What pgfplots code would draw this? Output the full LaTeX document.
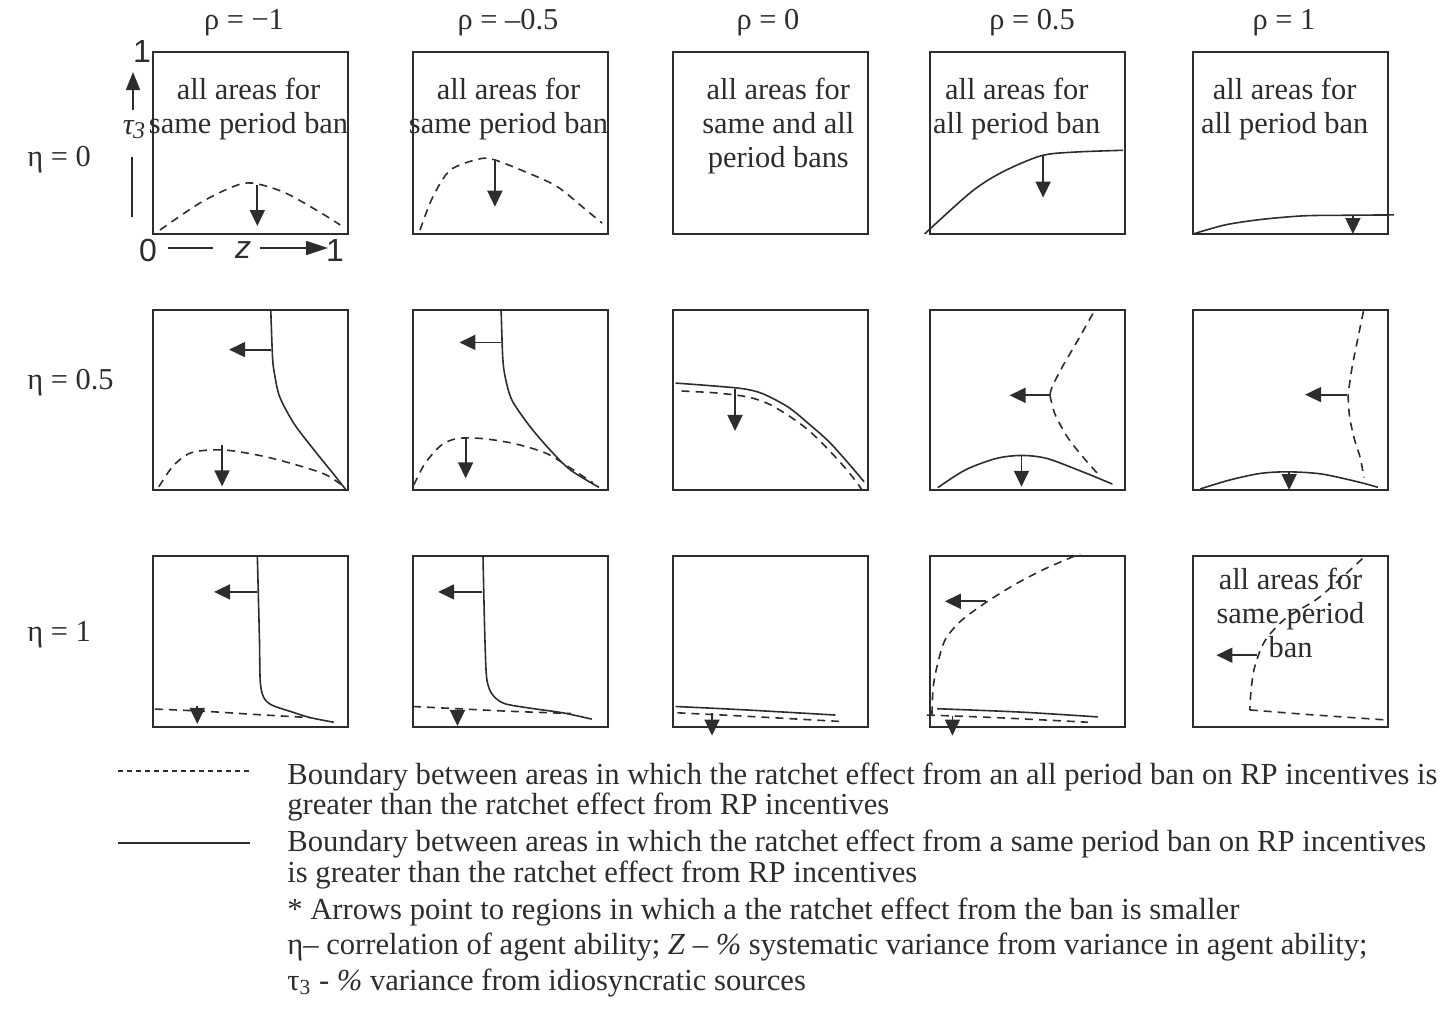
\documentclass[border=0pt]{standalone}
\usepackage{fontspec}
\setmainfont{Liberation Serif}
\newfontfamily\sansnum{Liberation Sans}
\usepackage{pgfplots}
\pgfplotsset{compat=1.18}
\usetikzlibrary{arrows.meta}
\definecolor{ink}{RGB}{45,45,48}

\newcommand\boxfont{\fontsize{15.2}{17}\selectfont}
\newcommand\legfont{\fontsize{15.3}{15.5}\selectfont}
\newcommand\keyfont{\sansnum\fontsize{16}{18}\selectfont}

\pgfplotsset{
  panel/.style={width=97.5pt, height=#1, scale only axis, anchor=south west,
    xmin=0, xmax=1, ymin=0, ymax=1, ticks=none, clip=false,
    axis line style={line width=1pt, draw=ink}},
  samepb/.style={ink, line width=0.8pt, smooth},
  allpb/.style={ink, line width=0.8pt, smooth, dash pattern=on 4pt off 3pt},
  pointer/.style={ink, line width=0.9pt, -{Triangle[length=8pt,width=7.5pt]}},
}
\tikzset{note/.style={align=center, font=\boxfont, text=ink}}

\begin{document}
\begin{tikzpicture}
% ---------- column and row headings ----------
\begin{scope}[every node/.style={font=\boxfont, text=ink}]
\node at (122pt,-11.5pt) {ρ = −1};
\node at (254pt,-11.5pt) {ρ = –0.5};
\node at (384pt,-11.5pt) {ρ = 0};
\node at (516pt,-11.5pt) {ρ = 0.5};
\node at (642pt,-11.5pt) {ρ = 1};
\node[anchor=west, inner sep=0pt] at (13.5pt,-80pt) {η = 0};
\node[anchor=west, inner sep=0pt] at (13.5pt,-191.5pt) {η = 0.5};
\node[anchor=west, inner sep=0pt] at (13.5pt,-317.5pt) {η = 1};
\end{scope}

% ---------- row eta = 0 ----------
\begin{axis}[panel=91pt, at={(76.5pt,-117pt)}]
\addplot[allpb] coordinates {(0.036,0.022) (0.24,0.17) (0.41,0.26) (0.51,0.28) (0.67,0.23) (0.84,0.13) (0.96,0.05)};
\addplot[pointer] coordinates {(0.535,0.27) (0.535,0.044)};
\node[note] at (axis cs:0.49,0.687) {all areas for\\same period ban};
\end{axis}

\begin{axis}[panel=91pt, at={(206.5pt,-117pt)}]
\addplot[allpb] coordinates {(0.036,0.022) (0.10,0.20) (0.19,0.35) (0.33,0.41) (0.41,0.41) (0.58,0.34) (0.74,0.26) (0.89,0.13) (0.97,0.06)};
\addplot[pointer] coordinates {(0.42,0.40) (0.42,0.15)};
\node[note] at (axis cs:0.49,0.687) {all areas for\\same period ban};
\end{axis}

\begin{axis}[panel=91pt, at={(336.5pt,-117pt)}]
\node[note] at (axis cs:0.54,0.595) {all areas for\\same and all\\period bans};
\end{axis}

\begin{axis}[panel=91pt, at={(465pt,-117pt)}]
\addplot[samepb] coordinates {(-0.028,0) (0.21,0.23) (0.37,0.34) (0.57,0.43) (0.74,0.45) (0.99,0.46)};
\addplot[pointer] coordinates {(0.58,0.43) (0.58,0.2)};
\node[note] at (axis cs:0.445,0.687) {all areas for\\all period ban};
\end{axis}

\begin{axis}[panel=91pt, at={(596.5pt,-117pt)}]
\addplot[samepb] coordinates {(0,0) (0.165,0.05) (0.35,0.08) (0.57,0.1) (0.79,0.103) (1.03,0.105)};
\addplot[pointer] coordinates {(0.82,0.103) (0.82,0.0)};
\node[note] at (axis cs:0.47,0.687) {all areas for\\all period ban};
\end{axis}

% axis key drawn beside the first panel
\begin{scope}[ink, line width=0.9pt]
\node[font=\keyfont] at (71pt,-25.5pt) {1};
\draw[-{Triangle[length=9pt,width=7pt]}] (66.5pt,-55pt) -- (66.5pt,-36pt);
\node[font=\boxfont] at (67pt,-65pt) {\textit{τ\kern-0.3pt\raisebox{-0.3ex}{\fontsize{12}{12}\selectfont 3}}};
\draw (66pt,-78.5pt) -- (66pt,-108.5pt);
\node[font=\keyfont] at (74pt,-125pt) {0};
\draw (84pt,-124pt) -- (106.5pt,-124pt);
\node[font=\keyfont\itshape] at (121.5pt,-125pt) {z};
\draw[-{Triangle[length=11pt,width=7pt]}] (130pt,-124pt) -- (164pt,-124pt);
\node[font=\keyfont] at (167.5pt,-125pt) {1};
\end{scope}

% ---------- row eta = 0.5 ----------
\begin{axis}[panel=90pt, at={(76.5pt,-245pt)}]
\addplot[samepb] coordinates {(0.604,1) (0.613,0.738) (0.623,0.646) (0.65,0.517) (0.723,0.369) (0.827,0.221) (0.93,0.083) (0.99,0)};
\addplot[pointer] coordinates {(0.604,0.78) (0.39,0.78)};
\addplot[allpb] coordinates {(0.03,0.018) (0.1,0.13) (0.18,0.2) (0.265,0.22) (0.39,0.22) (0.577,0.185) (0.765,0.13) (0.89,0.083) (0.98,0.018)};
\addplot[pointer] coordinates {(0.354,0.25) (0.354,0.02)};
\end{axis}

\begin{axis}[panel=90pt, at={(206.5pt,-245pt)}]
\addplot[samepb] coordinates {(0.452,1) (0.46,0.738) (0.473,0.627) (0.508,0.498) (0.602,0.35) (0.705,0.22) (0.809,0.11) (0.954,0.015)};
\addplot[pointer] coordinates {(0.452,0.82) (0.238,0.82)};
\addplot[allpb] coordinates {(0.004,0.028) (0.062,0.148) (0.145,0.249) (0.228,0.286) (0.353,0.286) (0.519,0.258) (0.685,0.203) (0.81,0.12) (0.923,0.04)};
\addplot[pointer] coordinates {(0.27,0.295) (0.27,0.065)};
\end{axis}

\begin{axis}[panel=90pt, at={(336.5pt,-245pt)}]
\addplot[samepb] coordinates {(0.013,0.594) (0.175,0.581) (0.357,0.563) (0.46,0.535) (0.59,0.461) (0.695,0.369) (0.8,0.268) (0.9,0.148) (0.98,0.046)};
\addplot[allpb] coordinates {(0.044,0.55) (0.226,0.539) (0.383,0.517) (0.487,0.48) (0.59,0.415) (0.695,0.332) (0.8,0.221) (0.9,0.101) (0.97,0)};
\addplot[pointer] coordinates {(0.318,0.563) (0.318,0.328)};
\end{axis}

\begin{axis}[panel=90pt, at={(465pt,-245pt)}]
\addplot[allpb] coordinates {(0.835,0.98) (0.757,0.83) (0.678,0.683) (0.626,0.572) (0.615,0.526)};
\addplot[allpb] coordinates {(0.615,0.526) (0.64,0.424) (0.704,0.295) (0.783,0.185) (0.874,0.074)};
\addplot[pointer] coordinates {(0.615,0.526) (0.408,0.526)};
\addplot[samepb] coordinates {(0.04,0.013) (0.18,0.111) (0.338,0.175) (0.469,0.192) (0.6,0.175) (0.783,0.101) (0.935,0.033)};
\addplot[pointer] coordinates {(0.469,0.19) (0.469,0.018)};
\end{axis}

\begin{axis}[panel=90pt, at={(596.5pt,-245pt)}]
\addplot[allpb] coordinates {(0.874,0.993) (0.843,0.83) (0.816,0.683) (0.795,0.53)};
\addplot[allpb] coordinates {(0.795,0.53) (0.803,0.406) (0.829,0.277) (0.856,0.185) (0.877,0.07)};
\addplot[pointer] coordinates {(0.79,0.53) (0.575,0.53)};
\addplot[samepb] coordinates {(0.037,0.006) (0.186,0.055) (0.344,0.092) (0.488,0.101) (0.659,0.089) (0.843,0.046) (0.948,0.015)};
\addplot[pointer] coordinates {(0.493,0.1) (0.493,0)};
\end{axis}

% ---------- row eta = 1 ----------
\begin{axis}[panel=85.5pt, at={(76.5pt,-363.5pt)}]
\addplot[samepb] coordinates {(0.535,1) (0.54,0.783) (0.546,0.506) (0.55,0.267) (0.567,0.175) (0.608,0.129) (0.702,0.092) (0.806,0.055) (0.927,0.028)};
\addplot[pointer] coordinates {(0.535,0.79) (0.313,0.79)};
\addplot[allpb] coordinates {(0.01,0.105) (0.265,0.092) (0.515,0.074) (0.806,0.055)};
\addplot[pointer] coordinates {(0.227,0.12) (0.227,0.018)};
\end{axis}

\begin{axis}[panel=85.5pt, at={(206.5pt,-363.5pt)}]
\addplot[samepb] coordinates {(0.359,1) (0.363,0.783) (0.369,0.506) (0.378,0.285) (0.405,0.193) (0.467,0.138) (0.602,0.11) (0.768,0.083) (0.917,0.046)};
\addplot[pointer] coordinates {(0.353,0.79) (0.129,0.79)};
\addplot[allpb] coordinates {(0,0.12) (0.228,0.107) (0.498,0.092) (0.809,0.079)};
\addplot[pointer] coordinates {(0.228,0.11) (0.228,0.006)};
\end{axis}

\begin{axis}[panel=85.5pt, at={(336.5pt,-363.5pt)}]
\addplot[samepb] coordinates {(0.013,0.12) (0.357,0.101) (0.833,0.07)};
\addplot[allpb] coordinates {(0.023,0.083) (0.357,0.064) (0.85,0.033)};
\addplot[pointer] coordinates {(0.2,0.083) (0.2,-0.05)};
\end{axis}

\begin{axis}[panel=85.5pt, at={(465pt,-363.5pt)}]
\addplot[allpb] coordinates {(0.01,0.074) (0.016,0.23) (0.037,0.359) (0.076,0.506) (0.155,0.617) (0.285,0.727) (0.442,0.838) (0.599,0.93) (0.77,1.013)};
\addplot[allpb] coordinates {(-0.016,0.07) (0.338,0.055) (0.809,0.028)};
\addplot[samepb] coordinates {(0.037,0.107) (0.469,0.087) (0.861,0.059)};
\addplot[pointer] coordinates {(0.285,0.735) (0.076,0.735)};
\addplot[pointer] coordinates {(0.115,0.064) (0.115,-0.05)};
\end{axis}

\begin{axis}[panel=85.5pt, at={(596.5pt,-363.5pt)}]
\addplot[allpb] coordinates {(0.869,0.985) (0.764,0.875) (0.633,0.746) (0.475,0.635) (0.37,0.506) (0.318,0.359) (0.299,0.23) (0.291,0.1)};
\addplot[allpb] coordinates {(0.291,0.1) (0.58,0.074) (0.995,0.041)};
\addplot[pointer] coordinates {(0.33,0.42) (0.12,0.42)};
\node[note] at (axis cs:0.5,0.667) {all areas for\\same period\\ban};
\end{axis}

% ---------- key ----------
\draw[ink, line width=0.7pt, dash pattern=on 2.5pt off 2pt] (59pt,-385.5pt) -- (125pt,-385.5pt);
\draw[ink, line width=1.2pt] (59pt,-421.5pt) -- (125pt,-421.5pt);
\begin{scope}[every node/.style={anchor=base west, font=\legfont, text=ink, inner sep=0pt}]
\node at (143.5pt,-392pt) {Boundary between areas in which the ratchet effect from an all period ban on RP incentives is};
\node at (143.5pt,-407pt) {greater than the ratchet effect from RP incentives};
\node at (143.5pt,-425.5pt) {Boundary between areas in which the ratchet effect from a same period ban on RP incentives};
\node at (143.5pt,-441pt) {is greater than the ratchet effect from RP incentives};
\node at (143.5pt,-459.5pt) {* Arrows point to regions in which a the ratchet effect from the ban is smaller};
\node at (143.5pt,-477pt) {η– correlation of agent ability; \textit{Z} – \textit{\%} systematic variance from variance in agent ability;};
\node at (143.5pt,-495pt) {τ\textsubscript{3} - \textit{\%} variance from idiosyncratic sources};
\end{scope}

\pgfresetboundingbox
\path[use as bounding box] (0pt,0pt) rectangle (722pt,-504pt);
\end{tikzpicture}
\end{document}
